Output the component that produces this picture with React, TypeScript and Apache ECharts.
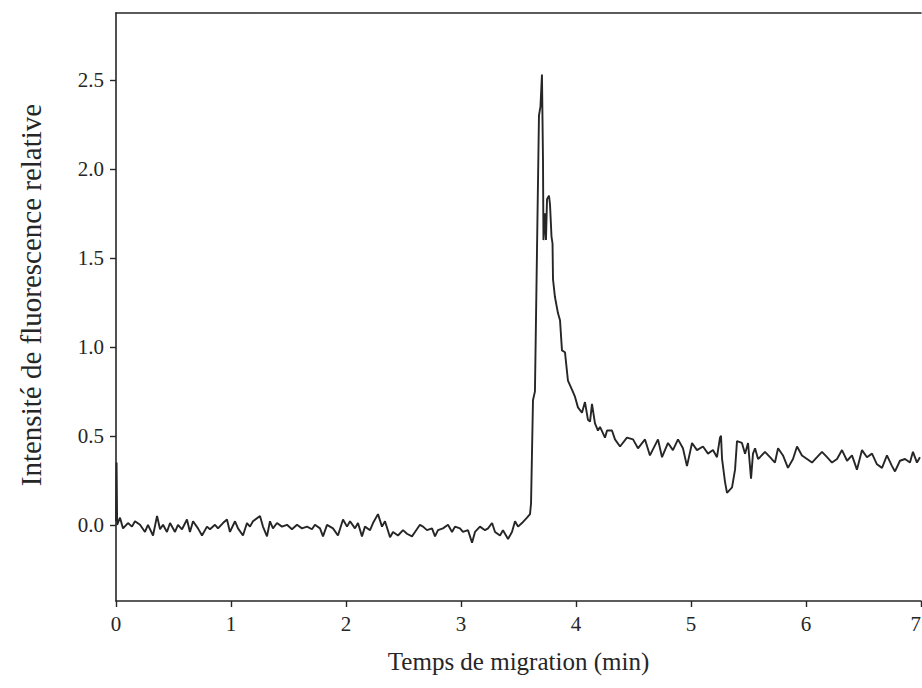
import React, { useEffect, useRef } from "react";
import * as echarts from "echarts";

// Migration time (min)
const times: number[] = [
  0, 0.005, 0.01, 0.035, 0.061, 0.104, 0.139, 0.165, 0.209, 0.252, 0.278, 0.322, 0.357, 0.383, 0.409, 0.443,
  0.47, 0.513, 0.539, 0.574, 0.617, 0.643, 0.67, 0.713, 0.748, 0.791, 0.817, 0.861, 0.887, 0.93, 0.965, 0.991,
  1.035, 1.061, 1.104, 1.139, 1.165, 1.191, 1.252, 1.278, 1.313, 1.339, 1.365, 1.4, 1.443, 1.487, 1.53, 1.574,
  1.617, 1.661, 1.704, 1.73, 1.774, 1.8, 1.835, 1.887, 1.93, 1.974, 2.009, 2.035, 2.078, 2.104, 2.139, 2.165,
  2.209, 2.235, 2.278, 2.313, 2.339, 2.383, 2.409, 2.452, 2.496, 2.53, 2.574, 2.6, 2.643, 2.67, 2.704, 2.748,
  2.774, 2.8, 2.843, 2.887, 2.922, 2.948, 2.991, 3.017, 3.061, 3.096, 3.122, 3.165, 3.209, 3.235, 3.27, 3.296,
  3.339, 3.365, 3.409, 3.443, 3.47, 3.496, 3.53, 3.574, 3.6, 3.609, 3.626, 3.643, 3.678, 3.691, 3.704, 3.713,
  3.717, 3.73, 3.739, 3.748, 3.765, 3.774, 3.787, 3.796, 3.8, 3.817, 3.843, 3.861, 3.878, 3.904, 3.93, 3.965,
  3.991, 4.017, 4.052, 4.078, 4.104, 4.122, 4.139, 4.165, 4.191, 4.209, 4.252, 4.27, 4.313, 4.339, 4.383, 4.443,
  4.496, 4.539, 4.6, 4.643, 4.713, 4.748, 4.8, 4.843, 4.887, 4.93, 4.965, 5.009, 5.052, 5.104, 5.148, 5.191,
  5.226, 5.252, 5.261, 5.27, 5.296, 5.313, 5.357, 5.383, 5.4, 5.443, 5.47, 5.496, 5.522, 5.539, 5.557, 5.583,
  5.6, 5.643, 5.687, 5.73, 5.757, 5.8, 5.843, 5.887, 5.922, 5.965, 6.009, 6.052, 6.096, 6.139, 6.183, 6.226,
  6.27, 6.313, 6.357, 6.4, 6.443, 6.487, 6.53, 6.574, 6.617, 6.661, 6.704, 6.748, 6.774, 6.817, 6.861, 6.904,
  6.93, 6.965, 6.991,
];

// Relative fluorescence intensity
const intensity: number[] = [
  0.02, 0.35, 0.0, 0.04, -0.02, 0.01, -0.01, 0.02, 0.0, -0.04, 0.0, -0.06, 0.05, -0.025, 0.0, -0.04,
  0.01, -0.04, 0.0, -0.025, 0.03, -0.04, 0.02, -0.02, -0.06, -0.01, -0.025, 0.0, -0.02, 0.01, 0.03, -0.04,
  0.02, -0.02, -0.06, 0.01, -0.01, 0.02, 0.05, -0.01, -0.065, 0.02, -0.02, 0.01, -0.01, 0.0, -0.025, 0.0,
  -0.02, -0.01, -0.025, 0.0, -0.02, -0.065, 0.0, -0.02, -0.06, 0.03, -0.01, 0.02, -0.02, 0.01, -0.065, -0.01,
  -0.03, 0.01, 0.06, -0.01, 0.02, -0.07, -0.04, -0.06, -0.03, -0.05, -0.065, -0.04, 0.0, -0.01, -0.03, -0.02,
  -0.065, -0.03, -0.02, 0.0, -0.04, -0.01, -0.02, -0.04, -0.03, -0.1, -0.04, -0.01, -0.03, -0.02, 0.01, -0.04,
  -0.06, -0.03, -0.08, -0.04, 0.02, -0.01, 0.01, 0.04, 0.06, 0.12, 0.7, 0.75, 2.3, 2.35, 2.53, 2.05,
  1.6, 1.75, 1.6, 1.83, 1.85, 1.8, 1.62, 1.58, 1.38, 1.28, 1.19, 1.15, 0.98, 0.97, 0.81, 0.76,
  0.72, 0.66, 0.63, 0.69, 0.59, 0.58, 0.68, 0.57, 0.53, 0.55, 0.49, 0.53, 0.53, 0.48, 0.44, 0.49,
  0.48, 0.43, 0.48, 0.39, 0.48, 0.38, 0.46, 0.42, 0.48, 0.43, 0.33, 0.46, 0.42, 0.44, 0.4, 0.42,
  0.38, 0.49, 0.5, 0.37, 0.24, 0.18, 0.21, 0.31, 0.47, 0.46, 0.4, 0.46, 0.26, 0.4, 0.43, 0.37,
  0.38, 0.41, 0.38, 0.35, 0.43, 0.39, 0.32, 0.37, 0.44, 0.39, 0.37, 0.35, 0.38, 0.41, 0.38, 0.35,
  0.37, 0.42, 0.36, 0.39, 0.31, 0.42, 0.38, 0.4, 0.34, 0.32, 0.39, 0.33, 0.3, 0.36, 0.37, 0.35,
  0.41, 0.35, 0.38,
];

const yTicks: number[] = [0, 0.5, 1.0, 1.5, 2.0, 2.5];
const xTicks: number[] = [0, 1, 2, 3, 4, 5, 6, 7];

const xTitle = "Temps de migration (min)";
const yTitle = "Intensité de fluorescence relative";

const FONT = "'Liberation Serif', 'DejaVu Serif', serif";
const INK = "#262626";

export default function App() {
  const ref = useRef<HTMLDivElement>(null);

  useEffect(() => {
    if (!ref.current) return;
    const chart = echarts.init(ref.current, undefined, { renderer: "svg" });
    const data = times.map((t, i) => [t, intensity[i]]);
    chart.setOption({
      animation: false,
      backgroundColor: "#ffffff",
      grid: { left: 116, top: 13, width: 805, height: 588 },
      xAxis: [
        {
          type: "value",
          min: 0,
          max: 7,
          interval: 1,
          position: "bottom",
          name: xTitle,
          nameLocation: "middle",
          nameGap: 48,
          nameTextStyle: { fontFamily: FONT, fontSize: 25, color: INK },
          axisLine: { show: true, onZero: false, lineStyle: { color: INK, width: 1.6 } },
          axisTick: { show: true, inside: false, length: 6, lineStyle: { color: INK, width: 1.4 } },
          axisLabel: {
            fontFamily: FONT,
            fontSize: 21,
            color: INK,
            margin: 12,
            alignMaxLabel: "right",
            formatter: (v: number) => (xTicks.includes(v) ? String(v) : ""),
          },
          splitLine: { show: false },
        },
        {
          type: "value",
          min: 0,
          max: 7,
          position: "top",
          axisLine: { show: true, onZero: false, lineStyle: { color: INK, width: 1.6 } },
          axisTick: { show: false },
          axisLabel: { show: false },
          splitLine: { show: false },
        },
      ],
      yAxis: {
        type: "value",
        min: -0.428,
        max: 2.876,
        splitNumber: 6,
        name: yTitle,
        nameLocation: "middle",
        nameGap: 71,
        nameRotate: 90,
        nameTextStyle: { fontFamily: FONT, fontSize: 29, color: INK, padding: [0, 0, 0, 24] },
        axisLine: { show: true, onZero: false, lineStyle: { color: INK, width: 1.6 } },
        axisTick: {
          show: true,
          length: 6,
          customValues: yTicks,
          lineStyle: { color: INK, width: 1.4 },
        },
        axisLabel: {
          fontFamily: FONT,
          fontSize: 21,
          color: INK,
          margin: 12,
          customValues: yTicks,
          formatter: (v: number) => v.toFixed(1),
        },
        splitLine: { show: false },
      },
      series: [
        {
          type: "line",
          xAxisIndex: 0,
          data,
          showSymbol: false,
          symbol: "none",
          lineStyle: { color: INK, width: 1.9 },
          silent: true,
        },
      ],
    });
    return () => chart.dispose();
  }, []);

  return (
    <div
      style={{
        position: "absolute",
        left: 0,
        top: 0,
        width: 922,
        height: 688,
        overflow: "hidden",
        background: "#fff",
      }}
    >
      <div ref={ref} style={{ width: 960, height: 688 }} />
    </div>
  );
}
